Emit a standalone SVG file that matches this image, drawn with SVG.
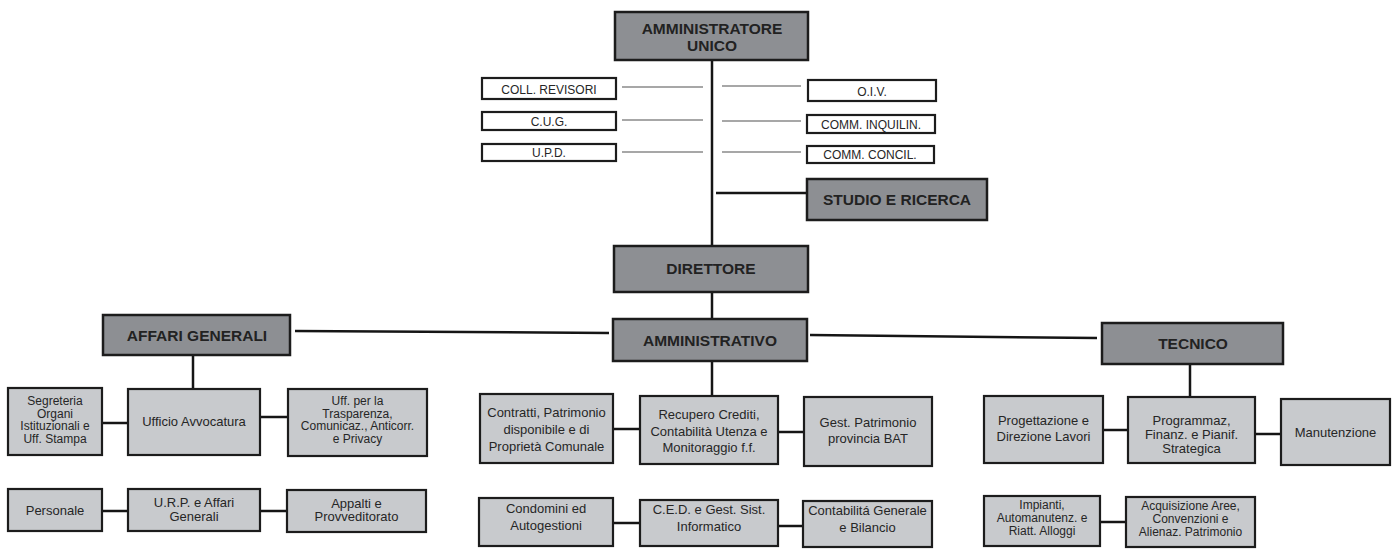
<svg xmlns="http://www.w3.org/2000/svg" width="1399" height="549" viewBox="0 0 1399 549">
<style>
.hd{fill:#8d8f93;stroke:#1c1c1c;stroke-width:2.5}
.bx{fill:#c8cacd;stroke:#1c1c1c;stroke-width:2.2}
.wb{fill:#ffffff;stroke:#1c1c1c;stroke-width:2.2}
.ht{font-family:"Liberation Sans",Arial,sans-serif;font-weight:bold;font-size:15.5px;fill:#222;text-anchor:middle}
.t{font-family:"Liberation Sans",Arial,sans-serif;font-size:13px;fill:#262626;text-anchor:middle}
.tn{font-family:"Liberation Sans",Arial,sans-serif;font-size:12px;fill:#262626;text-anchor:middle}
.ts{font-family:"Liberation Sans",Arial,sans-serif;font-size:12px;fill:#262626;text-anchor:middle}
.c{stroke:#151515;stroke-width:2.5;fill:none}
.g{stroke:#8a8a8a;stroke-width:1.5;fill:none}
</style>
<rect width="1399" height="549" fill="#ffffff"/>
<g id="connectors">
<line class="c" x1="712" y1="61" x2="712" y2="246"/>
<line class="c" x1="712" y1="292" x2="712" y2="319"/>
<line class="c" x1="712" y1="361" x2="712" y2="396"/>
<line class="c" x1="716" y1="193" x2="807" y2="193"/>
<line class="g" x1="622" y1="87" x2="703" y2="87"/>
<line class="g" x1="622" y1="120" x2="703" y2="120"/>
<line class="g" x1="622" y1="152" x2="703" y2="152"/>
<line class="g" x1="722" y1="86" x2="801" y2="86"/>
<line class="g" x1="722" y1="121" x2="801" y2="121"/>
<line class="g" x1="722" y1="152" x2="801" y2="152"/>
<line class="c" x1="295" y1="331" x2="609" y2="333"/>
<line class="c" x1="810" y1="335" x2="1097" y2="338"/>
<line class="c" x1="193" y1="355" x2="193" y2="389"/>
<line class="c" x1="1190" y1="364" x2="1190" y2="397"/>
<line class="c" x1="102" y1="423" x2="128" y2="423"/>
<line class="c" x1="260" y1="417" x2="288" y2="417"/>
<line class="c" x1="102" y1="511" x2="128" y2="511"/>
<line class="c" x1="260" y1="511" x2="287" y2="511"/>
<line class="c" x1="613" y1="429" x2="640" y2="429"/>
<line class="c" x1="778" y1="432" x2="804" y2="432"/>
<line class="c" x1="613" y1="523" x2="640" y2="523"/>
<line class="c" x1="778" y1="526" x2="803" y2="526"/>
<line class="c" x1="1103" y1="430" x2="1128" y2="430"/>
<line class="c" x1="1255" y1="434" x2="1281" y2="434"/>
<line class="c" x1="1100" y1="522" x2="1126" y2="522"/>
</g>
<g id="amministratore-unico"><rect class="hd" x="615" y="12" width="193" height="48"/><text class="ht" x="712" y="34">AMMINISTRATORE</text><text class="ht" x="712" y="51">UNICO</text></g>
<g id="coll-revisori"><rect class="wb" x="482" y="78" width="134" height="21"/><text class="ts" x="549" y="94">COLL. REVISORI</text></g>
<g id="cug"><rect class="wb" x="482" y="112" width="134" height="18"/><text class="ts" x="549" y="126">C.U.G.</text></g>
<g id="upd"><rect class="wb" x="482" y="144" width="134" height="17"/><text class="ts" x="549" y="157">U.P.D.</text></g>
<g id="oiv"><rect class="wb" x="808" y="80" width="128" height="21"/><text class="ts" x="872" y="96">O.I.V.</text></g>
<g id="comm-inquilin"><rect class="wb" x="807" y="115" width="128" height="18"/><text class="ts" x="871" y="129">COMM. INQUILIN.</text></g>
<g id="comm-concil"><rect class="wb" x="807" y="146" width="127" height="17"/><text class="ts" x="870" y="159">COMM. CONCIL.</text></g>
<g id="studio-ricerca"><rect class="hd" x="807" y="179" width="180" height="41"/><text class="ht" x="897" y="205">STUDIO E RICERCA</text></g>
<g id="direttore"><rect class="hd" x="614" y="246" width="194" height="46"/><text class="ht" x="711" y="274">DIRETTORE</text></g>
<g id="affari-generali"><rect class="hd" x="103" y="315" width="187" height="40"/><text class="ht" x="197" y="341">AFFARI GENERALI</text></g>
<g id="amministrativo"><rect class="hd" x="613" y="319" width="194" height="42"/><text class="ht" x="710" y="346">AMMINISTRATIVO</text></g>
<g id="tecnico"><rect class="hd" x="1102" y="323" width="181" height="41"/><text class="ht" x="1193" y="349">TECNICO</text></g>
<g id="segreteria"><rect class="bx" x="8" y="388" width="94" height="67"/><text class="tn" x="55" y="405">Segreteria</text><text class="tn" x="55" y="417.5">Organi</text><text class="tn" x="55" y="430">Istituzionali e</text><text class="tn" x="55" y="442.5">Uff. Stampa</text></g>
<g id="ufficio-avvocatura"><rect class="bx" x="128" y="389" width="132" height="66"/><text class="t" x="194" y="426">Ufficio Avvocatura</text></g>
<g id="uff-trasparenza"><rect class="bx" x="288" y="389" width="139" height="67"/><text class="tn" x="357.5" y="405">Uff. per la</text><text class="tn" x="357.5" y="417.5">Trasparenza,</text><text class="tn" x="357.5" y="430">Comunicaz., Anticorr.</text><text class="tn" x="357.5" y="442.5">e Privacy</text></g>
<g id="personale"><rect class="bx" x="8" y="489" width="94" height="42"/><text class="t" x="55" y="515">Personale</text></g>
<g id="urp"><rect class="bx" x="128" y="489" width="132" height="42"/><text class="t" x="194" y="507">U.R.P. e Affari</text><text class="t" x="194" y="520.5">Generali</text></g>
<g id="appalti"><rect class="bx" x="287" y="490" width="139" height="42"/><text class="t" x="356.5" y="507.5">Appalti e</text><text class="t" x="356.5" y="521">Provveditorato</text></g>
<g id="contratti"><rect class="bx" x="480" y="394" width="133" height="69"/><text class="t" x="546.5" y="417">Contratti, Patrimonio</text><text class="t" x="546.5" y="434">disponibile e di</text><text class="t" x="546.5" y="451">Proprietà Comunale</text></g>
<g id="recupero-crediti"><rect class="bx" x="640" y="396" width="138" height="68"/><text class="t" x="709" y="419">Recupero Crediti,</text><text class="t" x="709" y="436">Contabilità Utenza e</text><text class="t" x="709" y="452">Monitoraggio f.f.</text></g>
<g id="gest-patrimonio"><rect class="bx" x="804" y="397" width="128" height="69"/><text class="t" x="868" y="427">Gest. Patrimonio</text><text class="t" x="868" y="443">provincia BAT</text></g>
<g id="condomini"><rect class="bx" x="479" y="498" width="134" height="48"/><text class="t" x="546" y="513">Condomini ed</text><text class="t" x="546" y="530">Autogestioni</text></g>
<g id="ced"><rect class="bx" x="640" y="500" width="138" height="46"/><text class="t" x="709" y="514">C.E.D. e Gest. Sist.</text><text class="t" x="709" y="531">Informatico</text></g>
<g id="contabilita-generale"><rect class="bx" x="803" y="501" width="129" height="46"/><text class="t" x="867.5" y="515">Contabilitá Generale</text><text class="t" x="867.5" y="532">e Bilancio</text></g>
<g id="progettazione"><rect class="bx" x="984" y="396" width="119" height="67"/><text class="t" x="1043.5" y="425">Progettazione e</text><text class="t" x="1043.5" y="441">Direzione Lavori</text></g>
<g id="programmazione"><rect class="bx" x="1128" y="397" width="127" height="66"/><text class="t" x="1191.5" y="425">Programmaz,</text><text class="t" x="1191.5" y="439">Finanz. e Pianif.</text><text class="t" x="1191.5" y="453">Strategica</text></g>
<g id="manutenzione"><rect class="bx" x="1281" y="399" width="109" height="66"/><text class="t" x="1335.5" y="437">Manutenzione</text></g>
<g id="impianti"><rect class="bx" x="984" y="496" width="116" height="50"/><text class="tn" x="1042" y="509">Impianti,</text><text class="tn" x="1042" y="522">Automanutenz. e</text><text class="tn" x="1042" y="535">Riatt. Alloggi</text></g>
<g id="acquisizione"><rect class="bx" x="1126" y="497" width="129" height="50"/><text class="tn" x="1190.5" y="510">Acquisizione Aree,</text><text class="tn" x="1190.5" y="523">Convenzioni e</text><text class="tn" x="1190.5" y="536">Alienaz. Patrimonio</text></g>
</svg>
